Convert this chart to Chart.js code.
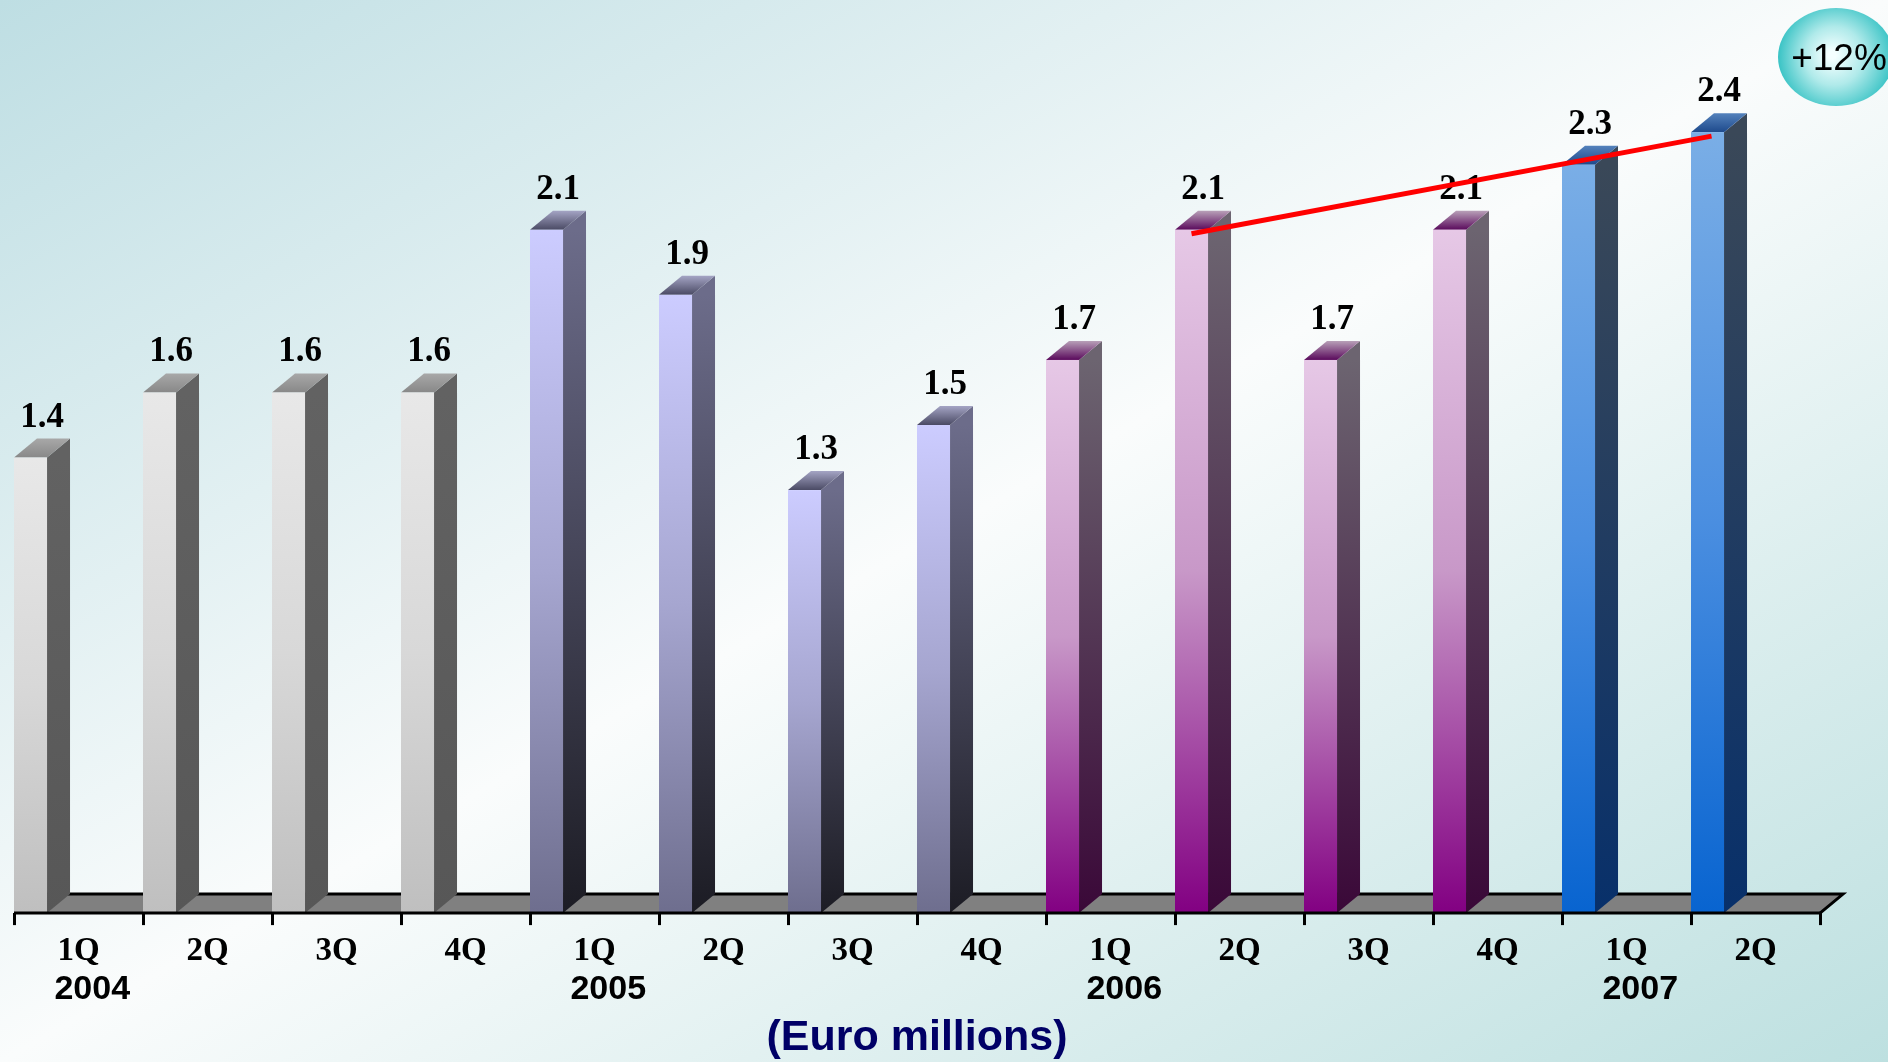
<!DOCTYPE html>
<html>
<head>
<meta charset="utf-8">
<title>Quarterly results</title>
<script src="https://cdn.jsdelivr.net/npm/chart.js@4.4.1/dist/chart.umd.min.js"></script>
<style>
  html, body { margin: 0; padding: 0; }
  body {
    width: 1888px;
    height: 1062px;
    overflow: hidden;
    background: linear-gradient(to bottom right, #bedee3 0%, #fafcfc 50%, #bde0e0 100%);
  }
  #wrap { position: relative; width: 1888px; height: 1062px; }
  #quarterChart { display: block; }
</style>
</head>
<body>
<div id="wrap"><canvas id="quarterChart" width="1888" height="1062"></canvas></div>
<script>
const quarters = ['1Q', '2Q', '3Q', '4Q', '1Q', '2Q', '3Q', '4Q', '1Q', '2Q', '3Q', '4Q', '1Q', '2Q'];
const years = ['2004', '2005', '2006', '2007'];
const results = [1.4, 1.6, 1.6, 1.6, 2.1, 1.9, 1.3, 1.5, 1.7, 2.1, 1.7, 2.1, 2.3, 2.4];
const trendFrom = 9;   // 2Q 2006
const trendTo = 13;    // 2Q 2007
const growthLabel = '+12%';

// one colour set per year: stops top -> bottom for front and side, front edge -> back edge for the lid
const palettes = [
    { front: ['#e8e8e8', '#d8d8d8', '#bfbfbf'], side: ['#626262', '#575757'], lid: ['#888888', '#a8a8a8'] },
    { front: ['#ccccff', '#a6a6d0', '#6e6e8e'], side: ['#6c6c8a', '#1c1c24'], lid: ['#4a4a64', '#a4a4c4'] },
    { front: ['#e6c8e6', '#c898c8', '#820082'], side: ['#6c6470', '#3a0838'], lid: ['#5a0a5c', '#b8a0b8'] },
    { front: ['#7aaee6', '#4a8ee0', '#0864d0'], side: ['#3a4858', '#08306a'], lid: ['#1e4a8c', '#5482bc'] }
];

const DEPTH_X = 23;
const DEPTH_Y = 19;
const serifFamily = '"Liberation Serif", "Times New Roman", serif';
const sansFamily = '"Liberation Sans", Arial, sans-serif';

function gradient(ctx, x0, y0, x1, y1, colors) {
    const g = ctx.createLinearGradient(x0, y0, x1, y1);
    colors.forEach(function(c, k) {
        g.addColorStop(k / (colors.length - 1), c);
    });
    return g;
}

// front face sits at the left edge of its category, depth goes up and right
function barBox(chart, bar) {
    const catWidth = chart.scales.x.width / chart.data.labels.length;
    const left = bar.x - catWidth / 2;
    return { left: left, right: left + bar.width, top: bar.y, base: bar.base };
}

const floorPlugin = {
    id: 'floor',
    beforeDatasetsDraw(chart) {
        const { ctx, chartArea } = chart;
        const y = chartArea.bottom;
        ctx.save();
        ctx.beginPath();
        ctx.moveTo(chartArea.left, y);
        ctx.lineTo(chartArea.left + DEPTH_X, y - DEPTH_Y);
        ctx.lineTo(chartArea.right + DEPTH_X, y - DEPTH_Y);
        ctx.lineTo(chartArea.right, y);
        ctx.closePath();
        ctx.fillStyle = '#808080';
        ctx.fill();

        ctx.beginPath();
        ctx.moveTo(chartArea.left + DEPTH_X, y - DEPTH_Y);
        ctx.lineTo(chartArea.right + DEPTH_X, y - DEPTH_Y);
        ctx.lineTo(chartArea.right, y);
        ctx.lineWidth = 3;
        ctx.strokeStyle = '#000';
        ctx.stroke();
        ctx.restore();
    }
};

const barsPlugin = {
    id: 'bars3d',
    afterDatasetsDraw(chart) {
        const { ctx, chartArea } = chart;
        const bars = chart.getDatasetMeta(0).data;
        ctx.save();

        bars.forEach(function(bar, i) {
            const p = palettes[Math.floor(i / 4)];
            const b = barBox(chart, bar);

            // side
            ctx.beginPath();
            ctx.moveTo(b.right, b.top);
            ctx.lineTo(b.right + DEPTH_X, b.top - DEPTH_Y);
            ctx.lineTo(b.right + DEPTH_X, b.base - DEPTH_Y);
            ctx.lineTo(b.right, b.base);
            ctx.closePath();
            ctx.fillStyle = gradient(ctx, 0, b.top, 0, b.base, p.side);
            ctx.fill();

            // lid
            ctx.beginPath();
            ctx.moveTo(b.left, b.top);
            ctx.lineTo(b.left + DEPTH_X, b.top - DEPTH_Y);
            ctx.lineTo(b.right + DEPTH_X, b.top - DEPTH_Y);
            ctx.lineTo(b.right, b.top);
            ctx.closePath();
            ctx.fillStyle = gradient(ctx, 0, b.top, 0, b.top - DEPTH_Y, p.lid);
            ctx.fill();

            // front
            ctx.fillStyle = gradient(ctx, 0, b.top, 0, b.base, p.front);
            ctx.fillRect(b.left, b.top, b.right - b.left, b.base - b.top);
        });

        // front edge of the floor = x axis line
        ctx.beginPath();
        ctx.moveTo(chartArea.left, chartArea.bottom);
        ctx.lineTo(chartArea.right, chartArea.bottom);
        ctx.lineWidth = 3;
        ctx.strokeStyle = '#000';
        ctx.stroke();

        // value labels
        ctx.font = 'bold 35px ' + serifFamily;
        ctx.fillStyle = '#000';
        ctx.textAlign = 'center';
        ctx.textBaseline = 'alphabetic';
        bars.forEach(function(bar, i) {
            const b = barBox(chart, bar);
            const cx = (b.left + b.right + DEPTH_X) / 2;
            ctx.fillText(results[i].toFixed(1), cx, b.top - 31);
        });

        // trend line between the two 2Q bars
        const a = barBox(chart, bars[trendFrom]);
        const z = barBox(chart, bars[trendTo]);
        ctx.beginPath();
        ctx.moveTo((a.left + a.right) / 2, a.top + 4);
        ctx.lineTo((z.left + z.right) / 2 + 4, z.top + 4);
        ctx.lineWidth = 5;
        ctx.lineCap = 'butt';
        ctx.strokeStyle = '#ff0000';
        ctx.stroke();

        ctx.restore();
    },
    afterDraw(chart) {
        const { ctx, chartArea } = chart;
        const xScale = chart.scales.x;
        ctx.save();

        // year under the first quarter of each year
        ctx.font = 'bold 33px ' + serifFamily;
        const qWidth = ctx.measureText(quarters[0]).width;
        ctx.font = 'bold 34px ' + sansFamily;
        ctx.fillStyle = '#000';
        ctx.textAlign = 'left';
        ctx.textBaseline = 'alphabetic';
        years.forEach(function(year, k) {
            const cx = xScale.getPixelForValue(k * 4);
            ctx.fillText(year, cx - qWidth / 2 - 3, chartArea.bottom + 86);
        });

        // growth badge
        const bx = 1836, by = 57;
        const rg = ctx.createRadialGradient(bx - 4, by - 2, 4, bx, by, 60);
        rg.addColorStop(0, '#f4ffff');
        rg.addColorStop(0.45, '#b0eaea');
        rg.addColorStop(1, '#30c0c2');
        ctx.beginPath();
        ctx.ellipse(bx, by, 58, 49, 0, 0, Math.PI * 2);
        ctx.fillStyle = rg;
        ctx.fill();
        ctx.font = '37px ' + sansFamily;
        ctx.fillStyle = '#000';
        ctx.textAlign = 'center';
        ctx.textBaseline = 'middle';
        ctx.fillText(growthLabel, bx + 3, by + 3);

        ctx.restore();
    }
};

const ctx = document.getElementById('quarterChart').getContext('2d');
const quarterChart = new Chart(ctx, {
    type: 'bar',
    data: {
        labels: quarters,
        datasets: [{
            data: results,
            backgroundColor: 'rgba(0,0,0,0)',
            borderWidth: 0,
            barPercentage: 0.256,
            categoryPercentage: 1
        }]
    },
    options: {
        responsive: false,
        maintainAspectRatio: false,
        animation: false,
        devicePixelRatio: 1,
        layout: {
            padding: { left: 14, right: 68, top: 2, bottom: 0 }
        },
        plugins: {
            legend: { display: false },
            tooltip: { enabled: false },
            title: {
                display: true,
                position: 'bottom',
                text: '(Euro millions)',
                color: '#000066',
                font: { family: sansFamily, size: 43, weight: 'bold', lineHeight: 1.1 },
                padding: { top: 36, bottom: 0 }
            }
        },
        scales: {
            x: {
                offset: true,
                border: { display: false },
                grid: {
                    display: true,
                    offset: true,
                    drawOnChartArea: false,
                    drawTicks: true,
                    tickLength: 12,
                    tickWidth: 3,
                    tickColor: '#000'
                },
                ticks: {
                    color: '#000',
                    padding: 7,
                    maxRotation: 0,
                    font: { family: serifFamily, size: 33, weight: 'bold' }
                }
            },
            y: {
                display: false,
                min: 0,
                max: 2.8
            }
        }
    },
    plugins: [floorPlugin, barsPlugin]
});
</script>
</body>
</html>
